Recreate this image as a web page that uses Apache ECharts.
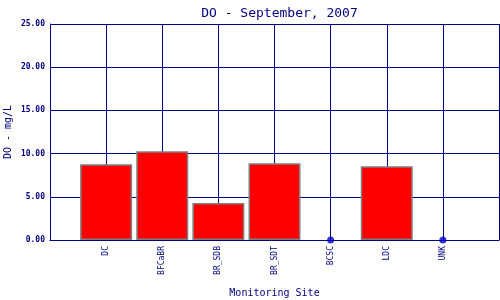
<!DOCTYPE html>
<html><head><meta charset="utf-8">
<script src="https://cdn.jsdelivr.net/npm/echarts@6/dist/echarts.min.js"></script>
<style>html,body{margin:0;padding:0;background:#fff}#c{width:500px;height:300px}</style>
</head><body><div id="c"></div>
<script>
var sites = ['DC', 'BFCaBR', 'BR_SDB', 'BR_SDT', 'BCSC', 'LDC', 'UNK'];
var doValues = [8.76, 10.27, 4.28, 8.88, null, 8.53, null];
var yTicks = [0, 5, 10, 15, 20, 25];

var cats = [''].concat(sites).concat(['']);
var barData = [null].concat(doValues).concat([null]);
var missing = [];
sites.forEach(function (s, i) { if (doValues[i] === null) missing.push([s, 0]); });

var navy = '#000080';
var font = '"DejaVu Sans Mono","Liberation Mono",monospace';
var chart = echarts.init(document.getElementById('c'), null, {renderer: 'canvas'});
chart.setOption({
  animation: false,
  backgroundColor: '#fff',
  title: {
    text: 'DO - September, 2007', left: 274.5, textAlign: 'center', top: 2,
    textStyle: {fontFamily: font, fontSize: 13, fontWeight: 'normal', color: navy}
  },
  grid: {left: 50, right: 1, top: 24, bottom: 60, containLabel: false, outerBoundsMode: 'none'},
  xAxis: {
    type: 'category', data: cats, boundaryGap: false,
    name: 'Monitoring Site', nameLocation: 'middle', nameGap: 48, nameMoveOverlap: false,
    nameTextStyle: {fontFamily: font, fontSize: 10, color: navy},
    axisLine: {lineStyle: {color: navy, width: 1}},
    axisTick: {show: false},
    axisLabel: {rotate: 90, fontFamily: font, fontSize: 8, color: navy, margin: 6,
      interval: 0},
    splitLine: {show: true, interval: 0, lineStyle: {color: navy, width: 1}}
  },
  yAxis: {
    type: 'value', min: 0, max: 25, interval: 5,
    name: 'DO - mg/L', nameLocation: 'middle', nameGap: 37, nameMoveOverlap: false,
    nameTextStyle: {fontFamily: font, fontSize: 10, color: navy},
    axisLine: {show: true, lineStyle: {color: navy, width: 1}},
    axisTick: {show: false},
    axisLabel: {fontFamily: font, fontSize: 8, fontWeight: 'bold', color: navy, margin: 5,
      formatter: function (v) { return yTicks.indexOf(v) >= 0 ? v.toFixed(2) : ''; }},
    splitLine: {show: true, lineStyle: {color: navy, width: 1}}
  },
  series: [
    {type: 'bar', data: barData, barWidth: 52,
      itemStyle: {color: '#ff0000', borderColor: '#808080', borderWidth: 1.5}},
    {type: 'scatter', data: missing, symbol: 'circle', symbolSize: 7,
      itemStyle: {color: '#0000cc'}, z: 5}
  ]
});
</script></body></html>
